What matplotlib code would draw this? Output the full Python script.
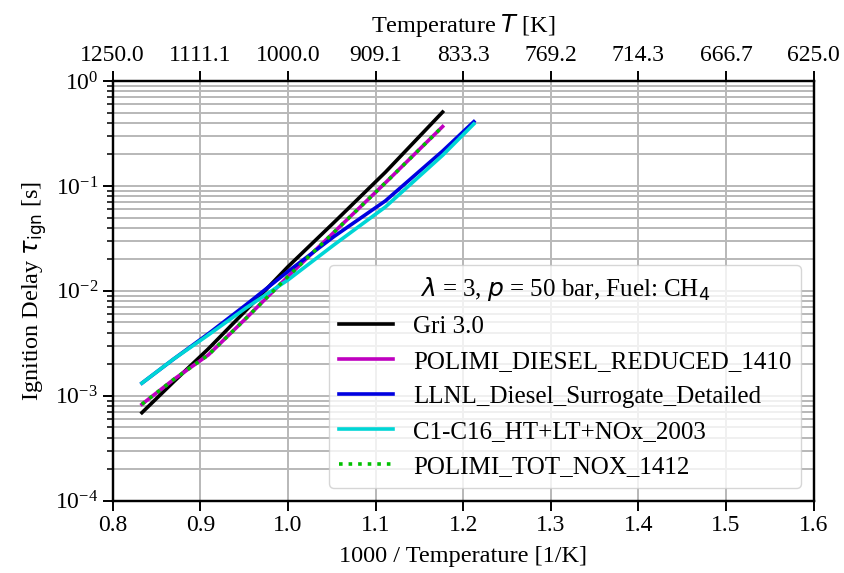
import numpy as np
import matplotlib
matplotlib.use("Agg")
import matplotlib.pyplot as plt

plt.rcParams['font.family'] = ['Liberation Serif', 'DejaVu Serif']
plt.rcParams['font.size'] = 17

# Temperatures of the simulated points [K]
temps_short = [1200, 1150, 1100, 1050, 1000, 950, 900, 850]
temps_long = [1200, 1150, 1100, 1050, 1000, 950, 900, 850, 825]

# Ignition delay times [s]
tau_gri = [6.9e-4, 1.36e-3, 2.8e-3, 6.56e-3, 1.70e-2, 4.5e-2, 0.135, 0.506]
tau_polimi_red = [8.3e-4, 1.43e-3, 2.45e-3, 5.5e-3, 1.37e-2, 3.63e-2, 0.107, 0.368]
tau_llnl = [1.32e-3, 2.24e-3, 3.9e-3, 7.4e-3, 1.53e-2, 3.3e-2, 7.2e-2, 0.215, 0.41]
tau_c1c16 = [1.32e-3, 2.24e-3, 3.8e-3, 6.9e-3, 1.27e-2, 2.75e-2, 6.3e-2, 0.196, 0.39]
tau_polimi_tot = [8.3e-4, 1.43e-3, 2.45e-3, 5.5e-3, 1.37e-2, 3.63e-2, 0.107, 0.368]

series = [
    ("Gri 3.0", temps_short, tau_gri, dict(color='black', ls='-')),
    ("POLIMI_DIESEL_REDUCED_1410", temps_short, tau_polimi_red, dict(color='#bf00bf', ls='-')),
    ("LLNL_Diesel_Surrogate_Detailed", temps_long, tau_llnl, dict(color='#0000e0', ls='-')),
    ("C1-C16_HT+LT+NOx_2003", temps_long, tau_c1c16, dict(color='#00d5d5', ls='-')),
    ("POLIMI_TOT_NOX_1412", temps_short, tau_polimi_tot, dict(color='#00c000', ls=':')),
]

xticks = [0.8, 0.9, 1.0, 1.1, 1.2, 1.3, 1.4, 1.5, 1.6]

fig = plt.figure(figsize=(8.45, 5.73), dpi=100)
ax = fig.add_axes([0.1334, 0.1262, 0.963 - 0.1334, 0.8586 - 0.1262])

for label, T, tau, style in series:
    x = 1000.0 / np.asarray(T, dtype=float)
    ax.plot(x, tau, lw=2.6, label=label, **style)

ax.set_yscale('log')
ax.set_xlim(0.8, 1.6)
ax.set_ylim(1e-4, 1e0)
ax.set_xticks(xticks)
ax.grid(True, which='major', color='#b8b8b8', lw=1.4)
ax.grid(True, which='minor', axis='y', color='#b8b8b8', lw=1.4)
ax.set_axisbelow(True)
ax.set_xlabel('1000 / Temperature [1/K]', fontsize=17.5, labelpad=7)
ax.set_ylabel(r'Ignition Delay $\tau_\mathrm{ign}$ [s]', fontsize=17.5)
for sp in ax.spines.values():
    sp.set_linewidth(1.6)
ax.tick_params(which='major', width=1.4, length=7)
ax.tick_params(which='minor', width=1.1, length=4.5)

top = ax.twiny()
top.set_xlim(ax.get_xlim())
top.set_xticks(xticks)
top.set_xticklabels([f"{1000.0 / v:.1f}" for v in xticks])
top.set_xlabel(r'Temperature $T$ [K]', fontsize=17.5, labelpad=10)
top.tick_params(which='major', width=1.4, length=7)
for sp in top.spines.values():
    sp.set_linewidth(1.6)

leg = ax.legend(loc='lower right', title=r'$\lambda$ = 3, $p$ = 50 bar, Fuel: CH$_4$',
                handlelength=2.15, fontsize=18, title_fontsize=18,
                labelspacing=0.5)

fig.savefig('out.png', dpi=100)
